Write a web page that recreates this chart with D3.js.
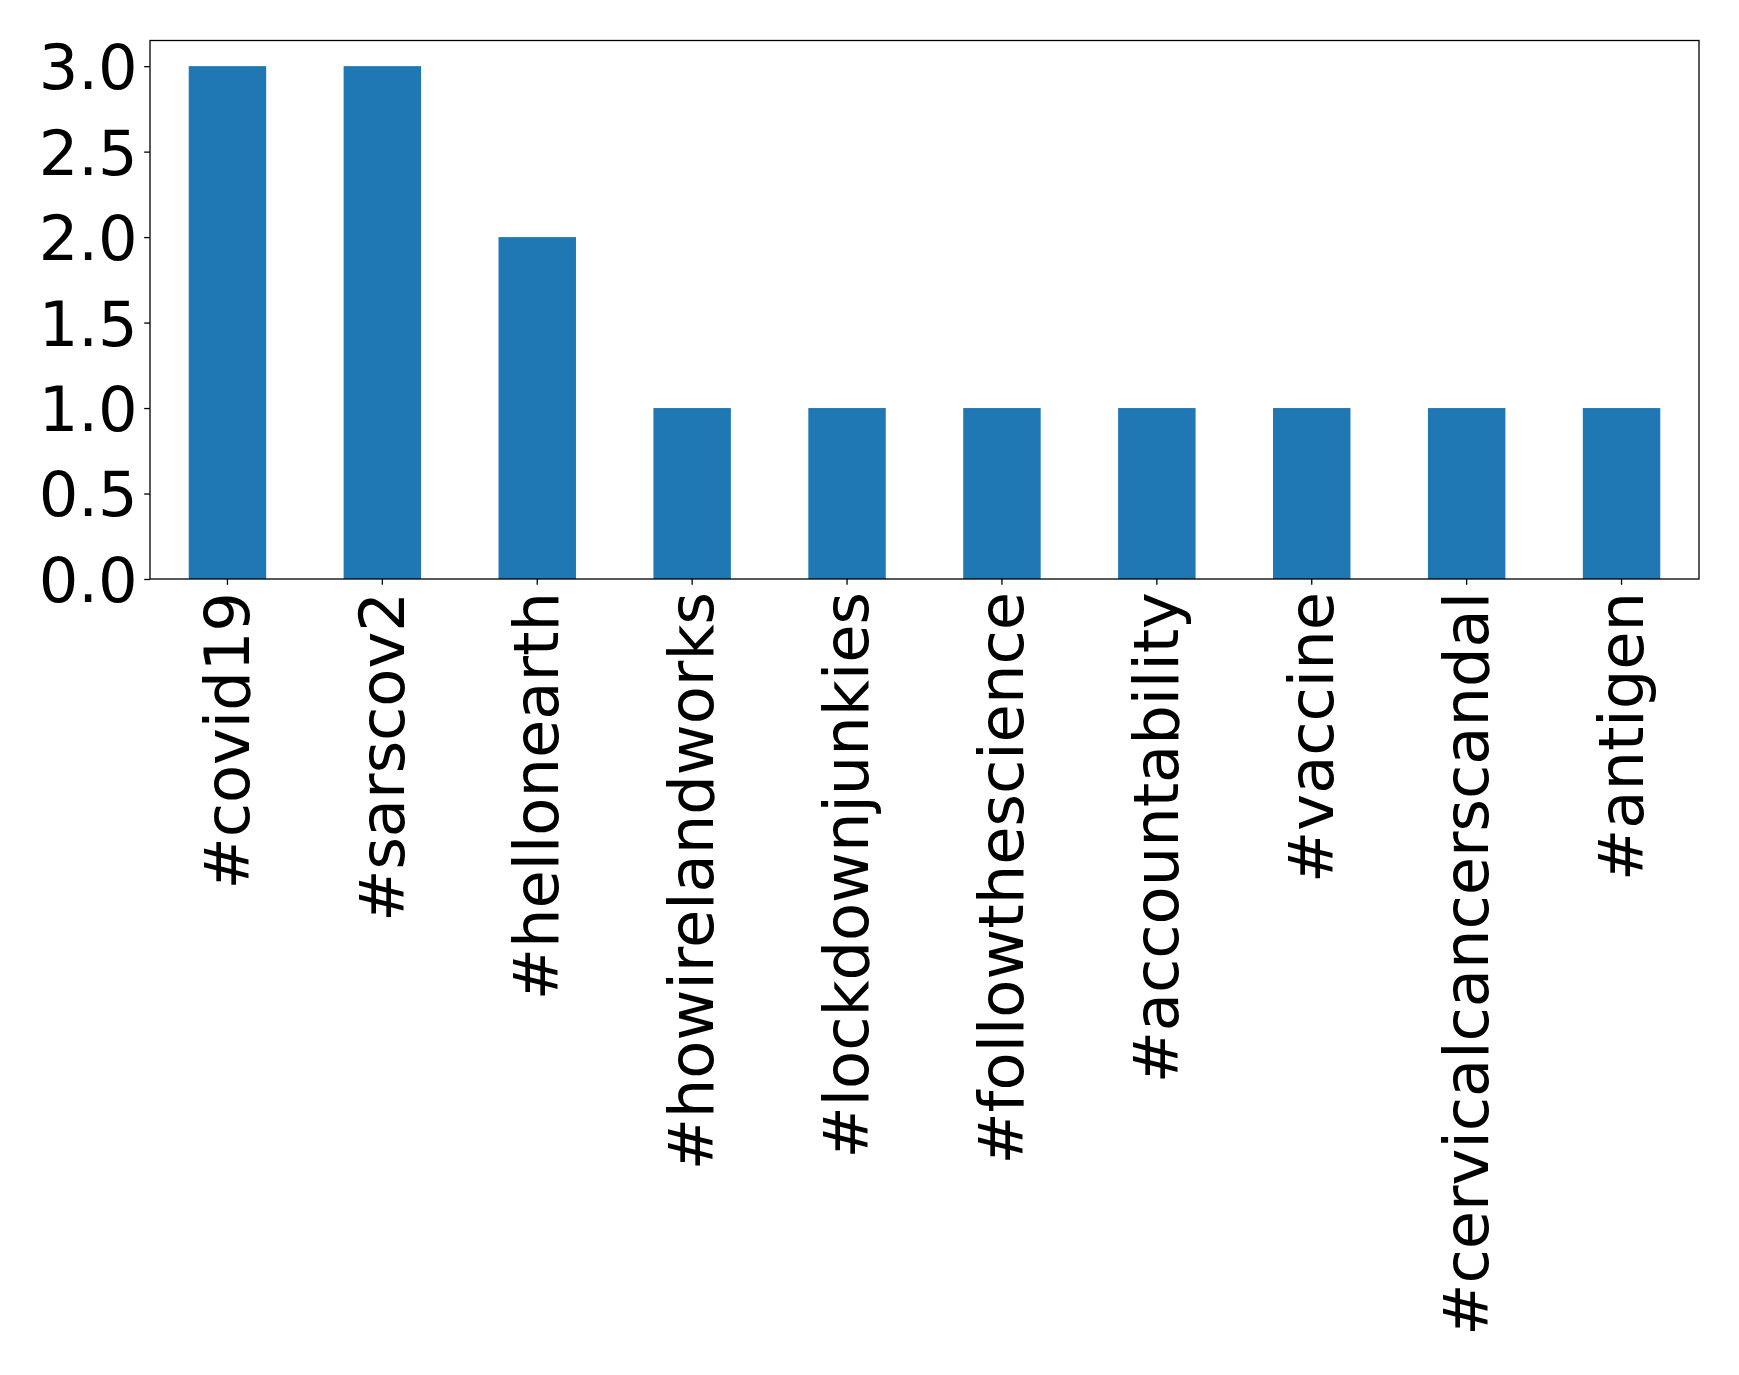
<!DOCTYPE html>
<html><head><meta charset="utf-8">
<script src="https://cdn.jsdelivr.net/npm/d3@7"></script>
<style>body{margin:0;background:#fff}text{font-family:"DejaVu Sans";}</style>
</head><body>
<svg id="c" width="1739" height="1375"></svg>
<script>
const categories = ["#covid19","#sarscov2","#hellonearth","#howirelandworks","#lockdownjunkies","#followthescience","#accountability","#vaccine","#cervicalcancerscandal","#antigen"];
const values = [3,3,2,1,1,1,1,1,1,1];
const yTicks = [0,0.5,1.0,1.5,2.0,2.5,3.0];

const svg = d3.select("#c");
const L=150, R=1699, T=40.5, B=579;
const x = d3.scaleBand().domain(categories).range([L,R]).paddingInner(0.5).paddingOuter(0.25);
const y = d3.scaleLinear().domain([0,3.15]).range([B,T]);
const fs = 62.3;

svg.append("g").selectAll("rect").data(values).join("rect")
  .attr("x",(d,i)=>x(categories[i])).attr("width",x.bandwidth())
  .attr("y",d=>y(d)).attr("height",d=>y(0)-y(d)).attr("fill","#1f77b4");

const ya = svg.append("g").attr("transform",`translate(${L},0)`)
  .call(d3.axisLeft(y).tickValues(yTicks).tickFormat(d3.format(".1f")).tickSize(5.8).tickPadding(6.5));
ya.select(".domain").remove();
ya.selectAll("line").attr("stroke","#000").attr("stroke-width",1.3);
ya.selectAll("text").attr("font-size",fs).attr("fill","#000").attr("font-family","DejaVu Sans").attr("dy","0.36em");

const xa = svg.append("g").attr("transform",`translate(0,${B})`)
  .call(d3.axisBottom(x).tickSize(5.8).tickPadding(0));
xa.select(".domain").remove();
xa.selectAll("line").attr("stroke","#000").attr("stroke-width",1.3);
xa.selectAll("text").attr("font-size",fs).attr("fill","#000").attr("font-family","DejaVu Sans")
  .attr("text-anchor","end").attr("transform","translate(0,13) rotate(-90)").attr("x",0).attr("y",0).attr("dy","0.34em");

svg.append("rect").attr("x",L).attr("y",T).attr("width",R-L).attr("height",B-T)
  .attr("fill","none").attr("stroke","#000").attr("stroke-width",1.3);
</script>
</body></html>
